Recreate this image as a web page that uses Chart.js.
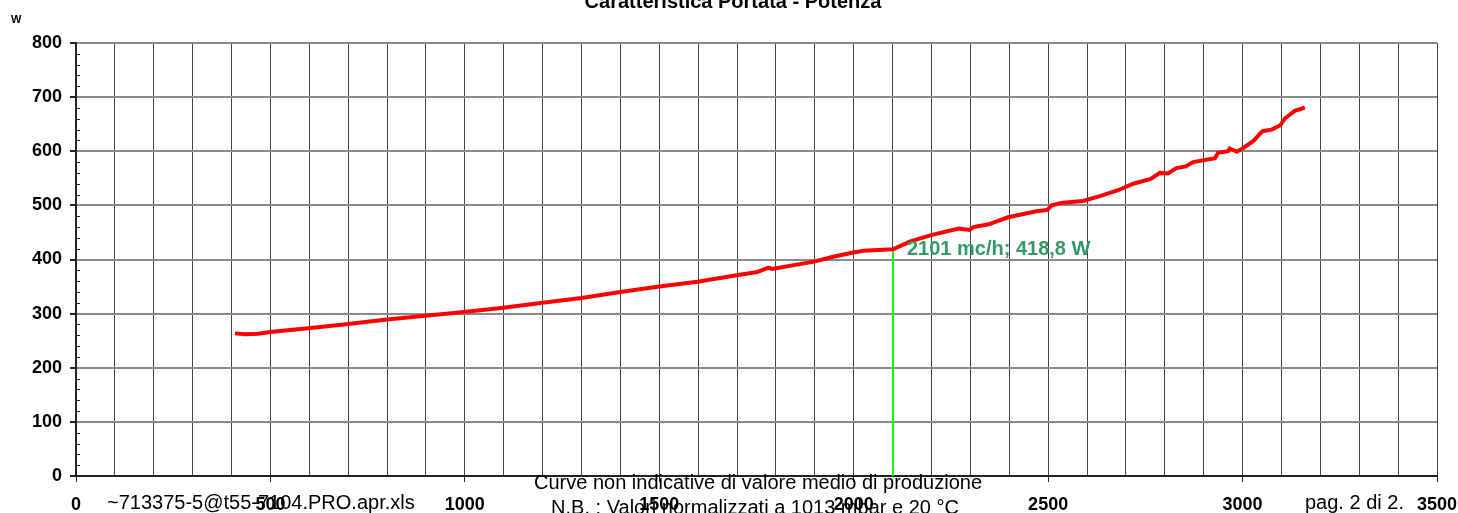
<!DOCTYPE html>
<html>
<head>
<meta charset="utf-8">
<script src="https://cdn.jsdelivr.net/npm/chart.js@4.4.1/dist/chart.umd.min.js"></script>
<style>
  html, body { margin: 0; padding: 0; background: #fff; }
  #wrap { position: relative; width: 1458px; height: 513px; }
</style>
</head>
<body>
<div id="wrap"><canvas id="chart"></canvas></div>
<script>
// Portata (mc/h) vs Potenza (W)
const flowData = [409, 434, 469, 499, 597, 700, 800, 898, 998, 1099, 1200, 1300, 1400, 1500, 1598, 1699, 1752, 1781, 1790, 1898, 1947, 1999, 2025, 2101, 2144, 2199, 2270, 2298, 2308, 2347, 2397, 2470, 2498, 2509, 2538, 2590, 2633, 2680, 2719, 2764, 2787, 2808, 2830, 2854, 2873, 2929, 2937, 2963, 2967, 2985, 3002, 3028, 3051, 3075, 3097, 3108, 3135, 3148, 3160];
const powerData = [263.5, 262, 263, 266, 273, 281, 289, 296, 303, 311, 320, 329, 340, 350, 359, 371, 377, 385, 382.5, 396, 405, 413, 416, 418.8, 433, 445, 457, 454.5, 460, 465, 478, 489, 491.5, 500, 505, 508, 517, 528, 540, 548.7, 560, 559, 569, 572, 580, 587, 597, 600, 605, 599, 606, 619, 637, 640, 648, 660, 675, 677.5, 681];

// marked operating point
const markFlow = 2101;
const markPower = 418.8;

const xTicks = [0, 500, 1000, 1500, 2000, 2500, 3000, 3500];
const yTicks = [0, 100, 200, 300, 400, 500, 600, 700, 800];

const titleText = "Caratteristica Portata - Potenza";
const yUnit = "W";
const fileText = "~713375-5@t55-7104.PRO.apr.xls";
const pageText = "pag. 2 di 2.";
const note1 = "Curve non indicative di valore medio di produzione";
const note2 = "N.B. : Valori normalizzati a 1013 mbar e 20 °C";

const FONT = "'Liberation Sans', Arial, sans-serif";

const extras = {
  id: "extras",
  afterDraw(chart) {
    const ctx = chart.ctx;
    const xs = chart.scales.x, ys = chart.scales.y;
    ctx.save();

    // minor ticks inside the y axis
    ctx.strokeStyle = "#222";
    ctx.lineWidth = 1;
    for (let v = 20; v < 800; v += 20) {
      if (v % 100 === 0) continue;
      const py = Math.round(ys.getPixelForValue(v)) + 0.5;
      ctx.beginPath();
      ctx.moveTo(xs.left, py);
      ctx.lineTo(xs.left + 4, py);
      ctx.stroke();
    }

    ctx.fillStyle = "#000";
    ctx.textBaseline = "alphabetic";
    ctx.font = "bold 20px " + FONT;
    ctx.textAlign = "center";
    ctx.fillText(titleText, 733, 8);

    ctx.font = "bold 11px " + FONT;
    ctx.textAlign = "left";
    ctx.fillText(yUnit, 11, 23);

    ctx.font = "20px " + FONT;
    ctx.fillText(fileText, 107, 509);
    ctx.fillText(pageText, 1305, 509);
    ctx.textAlign = "center";
    ctx.fillText(note1, 758, 489);
    ctx.fillText(note2, 755, 514);

    // operating point label
    ctx.font = "bold 20px " + FONT;
    ctx.textAlign = "left";
    ctx.textBaseline = "middle";
    ctx.fillStyle = "#339966";
    const lbl = markFlow + " mc/h; " + String(markPower).replace(".", ",") + " W";
    ctx.fillText(lbl, xs.getPixelForValue(markFlow) + 14, ys.getPixelForValue(markPower));
    ctx.restore();
  }
};

new Chart(document.getElementById("chart"), {
  type: "line",
  data: {
    datasets: [
      {
        data: flowData.map((f, i) => ({ x: f, y: powerData[i] })),
        borderColor: "#ff0000",
        borderWidth: 4,
        pointRadius: 0,
        tension: 0,
        order: 1,
      },
      {
        data: [{ x: markFlow, y: 0 }, { x: markFlow, y: markPower }],
        borderColor: "#00ff00",
        borderWidth: 2,
        pointRadius: 0,
        order: 2,
      },
    ],
  },
  options: {
    responsive: true,
    maintainAspectRatio: false,
    animation: false,
    layout: { padding: { top: 43, right: 21, left: 0, bottom: 0 } },
    plugins: { legend: { display: false }, tooltip: { enabled: false }, title: { display: false } },
    scales: {
      x: {
        type: "linear",
        min: 0,
        max: 3500,
        afterFit: (s) => { s.height = 37; s.paddingLeft = 0; s.paddingRight = 0; },
        border: { color: "#222", width: 2 },
        grid: {
          color: "#444",
          lineWidth: 1,
          tickLength: 6,
          tickColor: (c) => (xTicks.includes(c.tick.value) ? "#222" : "rgba(0,0,0,0)"),
        },
        ticks: {
          stepSize: 100,
          autoSkip: false,
          maxRotation: 0,
          padding: 12,
          color: "#000",
          font: { family: FONT, size: 18, weight: "bold" },
          callback: (v) => (xTicks.includes(v) ? String(v) : ""),
        },
      },
      y: {
        min: 0,
        max: 800,
        afterFit: (s) => { s.width = 76; },
        border: { color: "#222", width: 2 },
        grid: {
          color: (c) => (yTicks.includes(c.tick.value) ? "#8a8a8a" : "rgba(0,0,0,0)"),
          lineWidth: 2,
          tickLength: 6,
          tickColor: (c) => (yTicks.includes(c.tick.value) ? "#222" : "rgba(0,0,0,0)"),
        },
        ticks: {
          stepSize: 20,
          autoSkip: false,
          padding: 8,
          color: "#000",
          font: { family: FONT, size: 18, weight: "bold" },
          callback: (v) => (yTicks.includes(v) ? String(v) : ""),
        },
      },
    },
  },
  plugins: [extras],
});
</script>
</body>
</html>
